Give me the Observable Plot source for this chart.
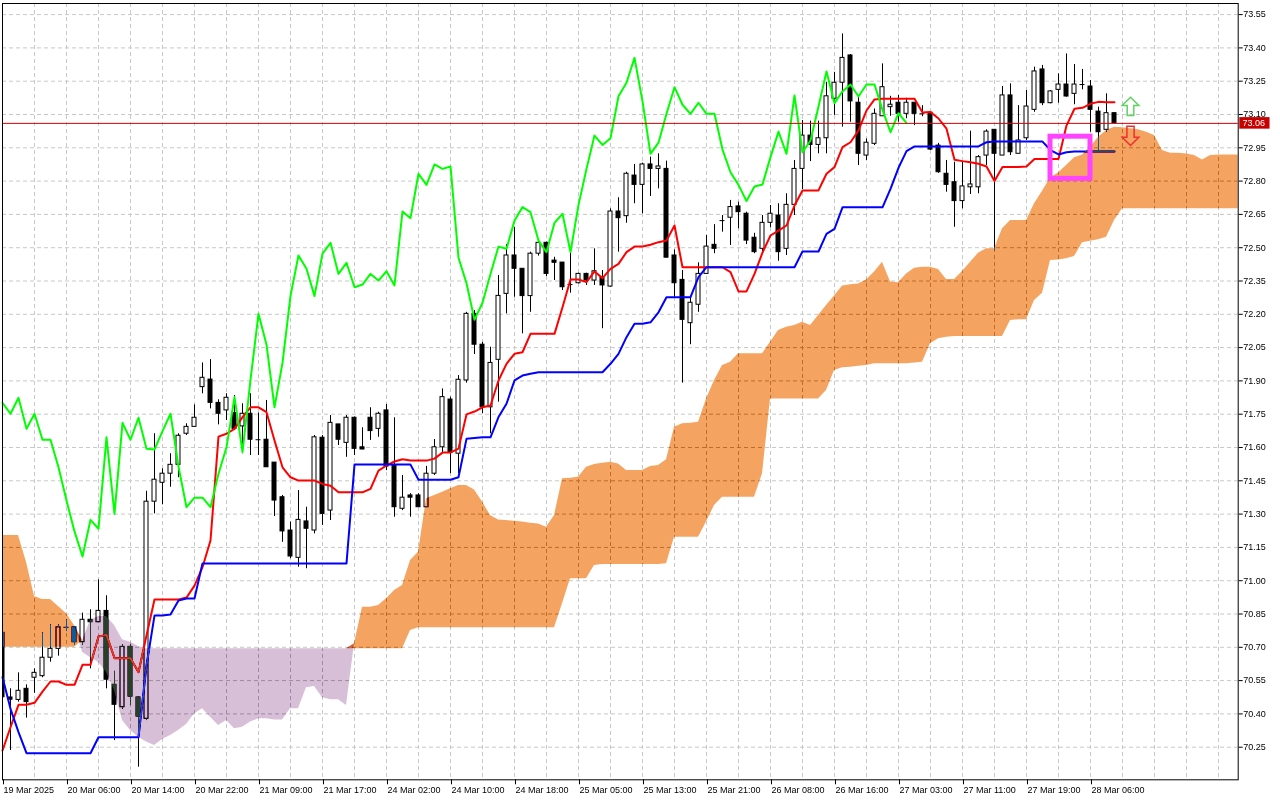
<!DOCTYPE html>
<html><head><meta charset="utf-8">
<script src="https://cdn.jsdelivr.net/npm/d3@7"></script>
<script src="https://cdn.jsdelivr.net/npm/@observablehq/plot@0.6"></script>
<style>html,body{margin:0;padding:0;background:#fff;overflow:hidden}</style>
</head><body><div id="chart"></div>
<script>
const xLabels = ["19 Mar 2025","20 Mar 06:00","20 Mar 14:00","20 Mar 22:00","21 Mar 09:00","21 Mar 17:00","24 Mar 02:00","24 Mar 10:00","24 Mar 18:00","25 Mar 05:00","25 Mar 13:00","25 Mar 21:00","26 Mar 08:00","26 Mar 16:00","27 Mar 03:00","27 Mar 11:00","27 Mar 19:00","28 Mar 06:00"];
const xLabelBars = [0,8,16,24,32,40,48,56,64,72,80,88,96,104,112,120,128,136];
const yTicks = [70.25,70.40,70.55,70.70,70.85,71.00,71.15,71.30,71.45,71.60,71.75,71.90,72.05,72.20,72.35,72.50,72.65,72.80,72.95,73.10,73.25,73.40,73.55];

const opens = [70.765,70.474,70.463,70.513,70.563,70.570,70.653,70.693,70.790,70.790,
 70.723,70.824,70.813,70.864,70.531,70.430,70.702,70.474,70.378,71.356,
 71.441,71.482,71.522,71.662,71.693,71.872,71.906,71.801,71.767,71.755,
 71.695,71.752,71.635,71.635,71.532,71.376,71.226,71.103,71.267,71.226,
 71.644,71.316,71.704,71.621,71.734,71.601,71.734,71.684,71.767,71.519,
 71.324,71.384,71.384,71.331,71.482,71.601,71.816,71.572,71.902,72.202,
 72.063,71.781,71.995,72.292,72.465,72.405,72.282,72.473,72.522,72.442,
 72.433,72.334,72.340,72.382,72.352,72.367,72.325,72.663,72.642,72.825,
 72.783,72.875,72.855,72.855,72.465,72.355,72.160,72.243,72.382,72.513,
 72.622,72.635,72.686,72.653,72.545,72.495,72.612,72.645,72.495,72.693,
 72.855,73.005,72.963,72.993,73.171,73.243,73.366,73.153,72.915,72.968,
 73.092,73.133,73.153,73.103,73.153,73.103,73.108,72.960,72.833,72.795,
 72.710,72.772,72.772,72.915,73.031,72.915,73.186,72.923,72.993,73.121,
 73.303,73.151,73.211,73.235,73.193,73.235,73.226,73.113,73.031,73.106];
const highs = [70.790,70.513,70.585,70.531,70.603,70.765,70.801,70.801,70.824,70.790,
 70.854,70.869,71.004,70.932,70.592,70.711,70.711,70.475,71.403,71.662,
 71.504,71.572,71.662,71.707,71.792,71.981,71.996,71.815,71.842,71.834,
 71.797,71.842,71.755,71.812,71.532,71.384,71.264,71.406,71.331,71.654,
 71.654,71.744,71.704,71.744,71.737,71.689,71.779,71.759,71.794,71.734,
 71.474,71.392,71.392,71.515,71.636,71.864,71.827,71.924,72.209,72.217,
 72.074,72.052,72.375,72.514,72.592,72.405,72.480,72.525,72.525,72.457,
 72.433,72.477,72.385,72.385,72.495,72.397,72.675,72.725,72.840,72.875,
 72.881,72.908,72.923,72.890,72.490,72.397,72.277,72.432,72.555,72.604,
 72.645,72.713,72.705,72.660,72.565,72.645,72.690,72.698,72.743,72.893,
 73.073,73.070,73.070,73.245,73.290,73.463,73.370,73.186,72.990,73.125,
 73.328,73.182,73.186,73.173,73.153,73.140,73.110,72.970,72.893,72.885,
 72.885,73.025,72.915,73.031,73.031,73.226,73.238,73.140,73.208,73.313,
 73.321,73.208,73.283,73.373,73.325,73.303,73.253,73.133,73.193,73.106];
const lows = [70.460,70.235,70.453,70.381,70.493,70.563,70.633,70.660,70.771,70.708,
 70.708,70.603,70.813,70.513,70.280,70.421,70.438,70.160,70.370,71.301,
 71.342,71.421,71.464,71.654,71.692,71.842,71.774,71.702,71.722,71.677,
 71.572,71.564,71.564,71.511,71.289,71.173,71.099,71.061,71.054,71.211,
 71.249,71.271,71.609,71.556,71.564,71.590,71.632,71.646,71.496,71.286,
 71.316,71.286,71.331,71.331,71.474,71.573,71.482,71.482,71.890,72.019,
 71.752,71.662,71.804,72.202,72.277,72.112,72.209,72.462,72.370,72.352,
 72.307,72.295,72.337,72.330,72.330,72.135,72.322,72.480,72.610,72.698,
 72.653,72.731,72.765,72.455,72.277,71.890,72.063,72.209,72.382,72.473,
 72.570,72.510,72.585,72.514,72.473,72.483,72.590,72.439,72.465,72.645,
 72.762,72.888,72.923,72.923,73.096,73.043,73.065,72.870,72.893,72.960,
 73.092,73.092,73.065,73.081,73.050,73.090,72.938,72.835,72.750,72.592,
 72.675,72.740,72.743,72.870,72.487,72.915,72.915,72.923,72.983,73.110,
 73.140,73.148,73.151,73.178,73.144,73.211,73.020,72.930,73.020,73.061];
const closes = [70.475,70.464,70.504,70.453,70.585,70.653,70.693,70.790,70.790,70.723,
 70.824,70.813,70.864,70.554,70.441,70.702,70.478,70.388,71.356,71.455,
 71.482,71.522,71.653,71.693,71.734,71.914,71.801,71.752,71.824,71.684,
 71.752,71.635,71.635,71.511,71.361,71.222,71.109,71.274,71.234,71.646,
 71.301,71.711,71.635,71.734,71.594,71.591,71.674,71.752,71.514,71.331,
 71.374,71.374,71.331,71.482,71.601,71.827,71.579,71.905,72.202,72.063,
 71.781,71.981,72.283,72.465,72.405,72.282,72.473,72.522,72.382,72.432,
 72.322,72.334,72.382,72.352,72.394,72.330,72.663,72.633,72.833,72.783,
 72.875,72.855,72.866,72.455,72.340,72.175,72.252,72.382,72.505,72.495,
 72.622,72.683,72.660,72.532,72.480,72.612,72.653,72.480,72.693,72.855,
 73.005,72.963,72.993,73.182,73.243,73.355,73.159,72.923,72.973,73.103,
 73.223,73.144,73.103,73.153,73.103,73.103,72.942,72.840,72.783,72.710,
 72.776,72.785,72.908,73.023,72.923,73.186,72.930,72.983,73.136,73.294,
 73.151,73.204,73.235,73.181,73.235,73.235,73.121,73.020,73.106,73.061];

const tenkan = [70.235,70.34,70.441,70.441,70.45,70.50,70.546,70.546,70.531,70.531,
 70.621,70.621,70.749,70.756,70.651,70.651,70.651,70.588,70.753,70.915,
 70.915,70.915,70.915,70.924,70.978,71.061,71.181,71.649,71.662,71.684,
 71.737,71.781,71.781,71.759,71.632,71.511,71.466,71.451,71.451,71.451,
 71.436,71.428,71.398,71.398,71.398,71.398,71.414,71.496,71.519,71.537,
 71.547,71.541,71.541,71.541,71.55,71.577,71.577,71.595,71.749,71.762,
 71.781,71.789,71.902,71.977,72.022,72.029,72.112,72.112,72.112,72.112,
 72.232,72.357,72.357,72.345,72.393,72.363,72.405,72.427,72.48,72.505,
 72.505,72.513,72.525,72.532,72.60,72.412,72.412,72.412,72.412,72.412,
 72.412,72.39,72.303,72.303,72.382,72.478,72.555,72.577,72.60,72.69,
 72.758,72.758,72.758,72.833,72.863,72.953,72.975,73.028,73.118,73.168,
 73.171,73.171,73.171,73.171,73.171,73.109,73.111,73.082,73.036,72.896,
 72.89,72.885,72.878,72.866,72.80,72.863,72.863,72.863,72.866,72.90,
 72.90,72.90,72.90,73.05,73.126,73.13,73.148,73.157,73.155,73.155];
const kijun = [70.565,70.423,70.318,70.223,70.223,70.223,70.223,70.223,70.223,70.223,
 70.223,70.223,70.295,70.295,70.295,70.295,70.295,70.295,70.618,70.843,
 70.843,70.848,70.911,70.92,70.92,71.078,71.078,71.078,71.078,71.078,
 71.078,71.078,71.078,71.078,71.078,71.078,71.078,71.078,71.078,71.078,
 71.078,71.078,71.078,71.078,71.523,71.523,71.523,71.523,71.523,71.523,
 71.523,71.523,71.455,71.455,71.455,71.455,71.455,71.466,71.639,71.643,
 71.646,71.646,71.737,71.797,71.902,71.924,71.932,71.939,71.939,71.939,
 71.939,71.939,71.939,71.939,71.939,71.939,71.977,72.022,72.097,72.157,
 72.157,72.164,72.209,72.277,72.277,72.277,72.277,72.367,72.412,72.412,
 72.412,72.412,72.412,72.412,72.412,72.412,72.412,72.412,72.412,72.412,
 72.483,72.483,72.483,72.562,72.585,72.682,72.682,72.682,72.682,72.682,
 72.682,72.765,72.86,72.935,72.956,72.956,72.956,72.956,72.956,72.956,
 72.956,72.956,72.956,72.975,72.978,72.978,72.978,72.978,72.978,72.978,
 72.978,72.94,72.92,72.93,72.933,72.933,72.933,72.933,72.933,72.933];
const spanA = [71.204,71.204,71.204,71.083,70.929,70.915,70.915,70.884,70.851,70.798,
 70.678,70.653,70.633,70.588,70.505,70.37,70.325,70.295,70.273,70.258,
 70.285,70.303,70.325,70.352,70.40,70.423,70.385,70.348,70.37,70.333,
 70.34,70.363,70.378,70.378,70.373,70.373,70.423,70.423,70.518,70.523,
 70.473,70.464,70.464,70.438,70.716,70.881,70.881,70.888,70.919,70.956,
 70.978,71.091,71.128,71.369,71.384,71.399,71.414,71.429,71.429,71.409,
 71.354,71.294,71.274,71.271,71.268,71.264,71.259,71.256,71.241,71.294,
 71.459,71.462,71.466,71.511,71.523,71.529,71.534,71.526,71.496,71.496,
 71.496,71.514,71.519,71.545,71.691,71.707,71.709,71.714,71.819,71.902,
 71.969,71.984,72.022,72.022,72.022,72.022,72.074,72.127,72.142,72.15,
 72.164,72.15,72.195,72.24,72.282,72.327,72.333,72.337,72.355,72.39,
 72.435,72.345,72.342,72.382,72.408,72.412,72.412,72.402,72.357,72.357,
 72.393,72.435,72.475,72.495,72.495,72.585,72.622,72.622,72.622,72.698,
 72.754,72.815,72.836,72.87,72.905,72.918,72.953,72.998,73.028,73.043,
 73.04,73.036,73.031,73.02,73.005,72.938,72.926,72.926,72.922,72.915,
 72.895,72.915,72.918,72.918,72.918,72.918];
const spanB = [70.70,70.70,70.70,70.70,70.70,70.70,70.70,70.70,70.70,70.70,
 70.731,70.821,70.839,70.839,70.798,70.734,70.723,70.704,70.693,70.693,
 70.693,70.693,70.693,70.693,70.693,70.693,70.693,70.693,70.693,70.693,
 70.693,70.693,70.693,70.693,70.693,70.693,70.693,70.693,70.693,70.693,
 70.693,70.693,70.693,70.693,70.693,70.693,70.693,70.693,70.693,70.693,
 70.693,70.776,70.788,70.788,70.788,70.788,70.788,70.788,70.788,70.788,
 70.788,70.788,70.788,70.788,70.788,70.788,70.788,70.788,70.788,70.788,
 70.896,71.009,71.009,71.009,71.069,71.073,71.073,71.073,71.073,71.073,
 71.073,71.073,71.073,71.076,71.196,71.196,71.196,71.196,71.264,71.339,
 71.376,71.376,71.376,71.376,71.376,71.482,71.819,71.819,71.819,71.819,
 71.819,71.819,71.819,71.857,71.947,71.959,71.962,71.966,71.969,71.977,
 71.977,71.977,71.977,71.977,71.981,71.984,72.067,72.09,72.097,72.10,
 72.10,72.10,72.10,72.10,72.10,72.10,72.172,72.175,72.176,72.262,
 72.295,72.442,72.445,72.45,72.46,72.522,72.529,72.536,72.547,72.622,
 72.675,72.675,72.675,72.675,72.675,72.675,72.675,72.675,72.675,72.675,
 72.675,72.675,72.675,72.675,72.675,72.675];

const lastPrice = 73.06;
const signalBox = [{x1: 131, x2: 136, y1: 72.81, y2: 73.00}];
const upSignal = [{bar: 141, price: 73.137}];
const downSignal = [{bar: 141, price: 73.004}];

// ---- derived tables ----
const candles = opens.map((o, i) => ({i, o, h: highs[i], l: lows[i], c: closes[i],
  lo: Math.min(o, closes[i]), hi: Math.max(o, closes[i])}));
const dojis = candles.filter(d => Math.abs(d.o - d.c) < 0.003);
const bodies = candles.filter(d => Math.abs(d.o - d.c) >= 0.003);
const cloud = spanA.map((a, i) => ({i, a, b: spanB[i], top: Math.max(a, spanB[i])}));
const chikou = closes.slice(26);
const gridBars = d3.range(0, 153, 4);
const xMax = 154.4625, yMin = 70.1032, yMax = 73.60;

function arrowSymbol(up) {
  return {draw(ctx, size) {
    const s = Math.sqrt(size / Math.PI) / 8.3;
    const pts = up
      ? [[0,-9.1],[8.3,-0.8],[3.3,-0.8],[3.3,9.2],[-3.3,9.2],[-3.3,-0.8],[-8.3,-0.8]]
      : [[0,9.7],[8.3,1.4],[3.6,1.4],[3.6,-9.6],[-3.6,-9.6],[-3.6,1.4],[-8.3,1.4]];
    ctx.moveTo(pts[0][0]*s, pts[0][1]*s);
    for (let k = 1; k < pts.length; k++) ctx.lineTo(pts[k][0]*s, pts[k][1]*s);
    ctx.closePath();
  }};
}

const chart = Plot.plot({
  width: 1280, height: 800,
  marginLeft: 2, marginRight: 42.3, marginTop: 3, marginBottom: 20.7,
  style: {fontFamily: "'Liberation Sans', Arial, sans-serif", fontSize: "9px", background: "white", color: "black"},
  x: {domain: [0, xMax], axis: null},
  y: {domain: [yMin, yMax], axis: null},
  marks: [
    Plot.frame({fill: "white", stroke: null}),
    Plot.gridY(yTicks, {stroke: "#c8c8c8", strokeOpacity: 1, strokeDasharray: "4,3"}),
    Plot.gridX(gridBars, {stroke: "#c8c8c8", strokeOpacity: 1, strokeDasharray: "4,3"}),
    // candles
    Plot.ruleX(candles, {x: "i", y1: "l", y2: "h", stroke: "black", strokeWidth: 1, clip: true}),
    Plot.rect(bodies, {x1: d => d.i - 0.25, x2: d => d.i + 0.25, y1: "lo", y2: "hi",
      fill: d => d.c >= d.o ? "white" : "black", stroke: "black", strokeWidth: 1, clip: true}),
    Plot.ruleY(dojis, {y: "o", x1: d => d.i - 0.31, x2: d => d.i + 0.31, stroke: "black", strokeWidth: 1, clip: true}),
    // ichimoku lines
    Plot.lineY(tenkan, {stroke: "#ff0000", strokeWidth: 2}),
    Plot.lineY(kijun, {stroke: "#0000ff", strokeWidth: 2}),
    Plot.lineY(chikou, {stroke: "#00ff00", strokeWidth: 2}),
    // cloud (xor-like rendering: inverse colours, difference blend)
    Plot.areaY(cloud, {x: "i", y1: "b", y2: "top", fill: "#0b5b9f", mixBlendMode: "difference"}),
    Plot.areaY(cloud, {x: "i", y1: "a", y2: "top", fill: "#274027", mixBlendMode: "difference"}),
    // cover the part of the cloud that runs past the right edge of the frame
    Plot.rect([0], {x1: xMax, x2: 162, y1: yMin, y2: yMax, fill: "white"}),
    // price line and label
    Plot.ruleY([lastPrice], {stroke: "#d40000", strokeWidth: 1}),
    Plot.rect([lastPrice], {x1: 154.66, x2: 158.44, y1: d => d - 0.026, y2: d => d + 0.026, fill: "#c80000"}),
    Plot.text([lastPrice], {x: 155.0, y: d => d, text: d => d.toFixed(2), fill: "white", textAnchor: "start", fontSize: 9}),
    // annotations
    Plot.rect(signalBox, {x1: "x1", x2: "x2", y1: "y1", y2: "y2", fill: "none", stroke: "#ff44ff", strokeWidth: 5}),
    Plot.dot(upSignal, {x: "bar", y: "price", r: 8.3, symbol: arrowSymbol(true), fill: "none", stroke: "#5fd35f", strokeWidth: 1.5}),
    Plot.dot(downSignal, {x: "bar", y: "price", r: 8.3, symbol: arrowSymbol(false), fill: "none", stroke: "#f03030", strokeWidth: 1.5}),
    // axes
    Plot.axisY(yTicks, {anchor: "right", tickSize: 4, tickPadding: 1, tickFormat: d => d.toFixed(2), fontSize: 9, label: null}),
    Plot.axisX(xLabelBars, {anchor: "bottom", tickSize: 5, tickPadding: 2, tickFormat: d => xLabels[xLabelBars.indexOf(d)], textAnchor: "start", dx: 1, fontSize: 9, label: null}),
    Plot.frame({stroke: "black", strokeWidth: 1})
  ]
});
document.getElementById("chart").appendChild(chart);
</script>
</body></html>
